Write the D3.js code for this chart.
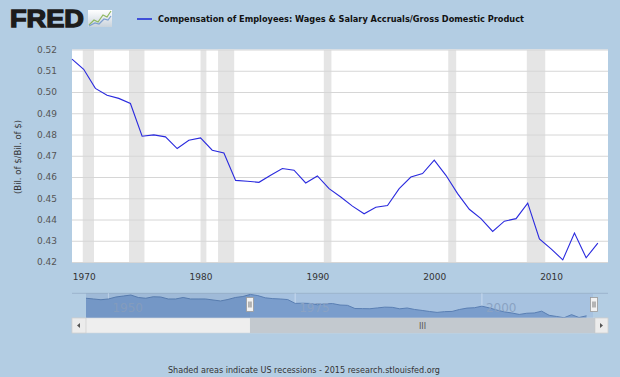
<!DOCTYPE html>
<html>
<head>
<meta charset="utf-8">
<script src="https://cdn.jsdelivr.net/npm/d3@7"></script>
<style>
  body { margin: 0; background: #b3cde3; }
  svg { display: block; }
  text { font-family: Verdana, "DejaVu Sans", sans-serif; }
</style>
</head>
<body>
<div id="chart"></div>
<script>
// annual values, 1969-2014 (main plot)
var years = d3.range(1969, 2015);
var values = [0.5155, 0.5107, 0.5017, 0.4985, 0.4970, 0.4946, 0.4792, 0.4798, 0.4789, 0.4734,
              0.4773, 0.4784, 0.4726, 0.4713, 0.4584, 0.4580, 0.4575, 0.4608, 0.4640, 0.4632,
              0.4572, 0.4605, 0.4545, 0.4506, 0.4463, 0.4427, 0.4458, 0.4466, 0.4545, 0.4600,
              0.4616, 0.4679, 0.4608, 0.4522, 0.4448, 0.4404, 0.4344, 0.4392, 0.4404, 0.4477,
              0.4309, 0.4262, 0.4210, 0.4336, 0.4220, 0.4289];
// earlier history only seen in the navigator, 1947-1968
var earlyYears = d3.range(1947, 1969);
var earlyValues = [0.500, 0.497, 0.494, 0.497, 0.505, 0.509, 0.513, 0.503, 0.500, 0.506,
                   0.505, 0.497, 0.497, 0.503, 0.497, 0.497, 0.497, 0.493, 0.489, 0.495,
                   0.503, 0.507];
var recessions = [[1969.92, 1970.88], [1973.88, 1975.2], [1980.0, 1980.5], [1981.5, 1982.88],
                  [1990.55, 1991.2], [2001.2, 2001.88], [2007.92, 2009.5]];
var yTicks = [0.42, 0.43, 0.44, 0.45, 0.46, 0.47, 0.48, 0.49, 0.50, 0.51, 0.52];
var xTicks = [1970, 1980, 1990, 2000, 2010];
var navTicks = [1950, 1975, 2000];
var seriesName = "Compensation of Employees: Wages & Salary Accruals/Gross Domestic Product";

var W = 620, H = 377;
var plot = {left: 72, right: 608, top: 49.5, bottom: 262};

var svg = d3.select("#chart").append("svg")
    .attr("width", W).attr("height", H);

svg.append("rect").attr("width", W).attr("height", H).attr("fill", "#b3cde3");

// ---- header: logo + legend
var logo = svg.append("g");
logo.append("text")
    .attr("x", 10).attr("y", 27)
    .attr("textLength", 74).attr("lengthAdjust", "spacingAndGlyphs")
    .style("font-family", "'Liberation Sans', Arial, sans-serif")
    .style("font-weight", "bold").style("font-size", "24px")
    .attr("fill", "#1c1c1c").attr("stroke", "#1c1c1c").attr("stroke-width", 1.3)
    .text("FRED");
var grad = svg.append("defs").append("linearGradient")
    .attr("id", "icon").attr("x1", 0).attr("y1", 0).attr("x2", 0).attr("y2", 1);
grad.append("stop").attr("offset", "0%").attr("stop-color", "#ffffff");
grad.append("stop").attr("offset", "100%").attr("stop-color", "#c9d3dc");
logo.append("rect").attr("x", 88).attr("y", 10).attr("width", 24).attr("height", 17)
    .attr("fill", "url(#icon)");
logo.append("polyline").attr("points", "89,25 94,20 98,22 103,15 107,17 111,11")
    .attr("fill", "none").attr("stroke", "#8fb860").attr("stroke-width", 1.2);
logo.append("polyline").attr("points", "89,26 95,23 99,24 104,19 108,20 111,16")
    .attr("fill", "none").attr("stroke", "#7d9fcf").attr("stroke-width", 1.2);

svg.append("line").attr("x1", 137).attr("x2", 152).attr("y1", 19).attr("y2", 19)
    .attr("stroke", "#3f4fd8").attr("stroke-width", 2);
svg.append("text").attr("x", 158).attr("y", 22)
    .attr("textLength", 366).attr("lengthAdjust", "spacingAndGlyphs")
    .style("font-size", "8.5px").style("font-weight", "bold")
    .attr("fill", "#111").text(seriesName);

// ---- main plot
var x = d3.scaleLinear().domain([1969, 2014.87]).range([plot.left, plot.right]);
var y = d3.scaleLinear().domain([0.42, 0.52]).range([plot.bottom, plot.top]);

svg.append("rect")
    .attr("x", plot.left).attr("y", plot.top)
    .attr("width", plot.right - plot.left).attr("height", plot.bottom - plot.top)
    .attr("fill", "#ffffff");

svg.append("g").selectAll("rect").data(recessions).join("rect")
    .attr("x", function(d) { return x(d[0]); })
    .attr("width", function(d) { return x(d[1]) - x(d[0]); })
    .attr("y", plot.top).attr("height", plot.bottom - plot.top)
    .attr("fill", "#e5e5e5");

var yAxis = svg.append("g")
    .attr("transform", "translate(" + plot.left + ",0)")
    .call(d3.axisLeft(y).tickValues(yTicks).tickFormat(d3.format(".2f"))
      .tickSize(-(plot.right - plot.left)).tickPadding(15));
yAxis.select(".domain").remove();
yAxis.selectAll(".tick line").attr("stroke", "#d6d6d6");
yAxis.selectAll(".tick text")
    .style("font-size", "9px").attr("fill", "#555");

var xAxis = svg.append("g")
    .attr("transform", "translate(0," + plot.bottom + ")")
    .call(d3.axisBottom(x).tickValues(xTicks).tickFormat(d3.format("d"))
      .tickSize(0).tickPadding(12));
xAxis.select(".domain").remove();
xAxis.selectAll(".tick text")
    .style("font-size", "9px").attr("fill", "#333");

svg.append("text")
    .attr("transform", "translate(21," + 157 + ") rotate(-90)")
    .attr("text-anchor", "middle")
    .style("font-size", "8.5px").attr("fill", "#333")
    .text("(Bil. of $/Bil. of $)");

var line = d3.line()
    .x(function(d, i) { return x(years[i]); })
    .y(function(d) { return y(d); });

svg.append("path").datum(values)
    .attr("d", line)
    .attr("fill", "none")
    .attr("stroke", "#2a2ade")
    .attr("stroke-width", 1.1);

// ---- navigator
var nav = {left: 86, right: 593, top: 293.3, bottom: 318};
var allYears = earlyYears.concat(years);
var allValues = earlyValues.concat(values);
var nx = d3.scaleLinear().domain([1947, 2014.87]).range([nav.left, nav.right]);
var ny = d3.scaleLinear().domain([0.42, 0.52]).range([nav.bottom, nav.top]);

svg.append("rect").attr("x", nav.left).attr("y", nav.top)
    .attr("width", nav.right - nav.left).attr("height", nav.bottom - nav.top)
    .attr("fill", "#a7c2e0");
svg.append("line").attr("x1", plot.left).attr("x2", plot.right)
    .attr("y1", nav.top).attr("y2", nav.top)
    .attr("stroke", "#9bb3cc");

svg.append("g").selectAll("line").data(navTicks).join("line")
    .attr("x1", function(d) { return nx(d); }).attr("x2", function(d) { return nx(d); })
    .attr("y1", nav.top).attr("y2", nav.bottom)
    .attr("stroke", "#c7d9ee");

var area = d3.area()
    .x(function(d, i) { return nx(allYears[i]); })
    .y0(nav.bottom)
    .y1(function(d) { return ny(d); });
svg.append("path").datum(allValues).attr("d", area).attr("fill", "#7a9dcc");
svg.append("path").datum(allValues)
    .attr("d", d3.line()
      .x(function(d, i) { return nx(allYears[i]); })
      .y(function(d) { return ny(d); }))
    .attr("fill", "none").attr("stroke", "#5a7fb3").attr("stroke-width", 1);

svg.append("g").selectAll("text").data(navTicks).join("text")
    .attr("x", function(d) { return nx(d) + 4; })
    .attr("y", 312)
    .style("font-size", "12px").attr("fill", "#8aa2c3")
    .text(function(d) { return d; });

// unselected part mask
var selStart = 1968.95;
svg.append("rect").attr("x", nav.left).attr("y", nav.top)
    .attr("width", nx(selStart) - nav.left).attr("height", nav.bottom - nav.top)
    .attr("fill", "rgba(40,70,110,0.06)");

// handles
function handle(hx, top) {
  var g = svg.append("g");
  g.append("rect").attr("x", hx - 3.5).attr("y", top).attr("width", 7).attr("height", 14)
      .attr("fill", "#f2f2f2").attr("stroke", "#999").attr("stroke-width", 0.8);
  g.append("line").attr("x1", hx - 1).attr("x2", hx - 1).attr("y1", top + 4).attr("y2", top + 10)
      .attr("stroke", "#777");
  g.append("line").attr("x1", hx + 1).attr("x2", hx + 1).attr("y1", top + 4).attr("y2", top + 10)
      .attr("stroke", "#777");
}
handle(nx(selStart), 297.5);
handle(nx(2014.87) + 1, 297.5);

// ---- scrollbar
var sb = {top: 318, bottom: 333};
svg.append("rect").attr("x", plot.left).attr("y", sb.top)
    .attr("width", plot.right - plot.left).attr("height", sb.bottom - sb.top)
    .attr("fill", "#eeeeee").attr("stroke", "#cfd6dd").attr("stroke-width", 0.6);
svg.append("rect").attr("x", nx(selStart)).attr("y", sb.top)
    .attr("width", 595 - nx(selStart)).attr("height", sb.bottom - sb.top)
    .attr("fill", "#c3c9cf");
svg.append("text").attr("x", (nx(selStart) + 595) / 2).attr("y", 329)
    .attr("text-anchor", "middle").style("font-size", "8px").attr("fill", "#555").text("III");
svg.append("rect").attr("x", plot.left).attr("y", sb.top).attr("width", 14).attr("height", 15)
    .attr("fill", "#ececec").attr("stroke", "#c8c8c8").attr("stroke-width", 0.6);
svg.append("rect").attr("x", 595).attr("y", sb.top).attr("width", 13).attr("height", 15)
    .attr("fill", "#ececec").attr("stroke", "#c8c8c8").attr("stroke-width", 0.6);
svg.append("path").attr("d", "M77,325.5 L80,323 L80,328 Z").attr("fill", "#555");
svg.append("path").attr("d", "M603,325.5 L600,323 L600,328 Z").attr("fill", "#555");

// ---- footer
svg.append("text").attr("x", 168).attr("y", 373)
    .attr("textLength", 272).attr("lengthAdjust", "spacingAndGlyphs")
    .style("font-size", "8.5px").attr("fill", "#333")
    .text("Shaded areas indicate US recessions - 2015 research.stlouisfed.org");
</script>
</body>
</html>
